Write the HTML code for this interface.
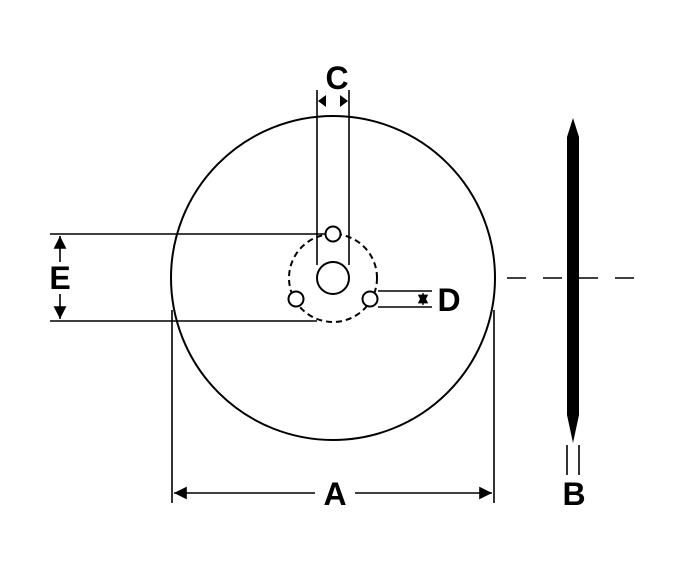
<!DOCTYPE html>
<html><head><style>body{margin:0;background:#fff}svg{display:block}text{font-family:"Liberation Sans",sans-serif;font-weight:bold;font-size:32px;text-anchor:middle;dominant-baseline:central}</style></head>
<body>
<svg width="677" height="582" viewBox="0 0 677 582" xmlns="http://www.w3.org/2000/svg">
<defs><marker id="ar" viewBox="0 0 10 10" refX="10" refY="5" markerWidth="8" markerHeight="8" orient="auto-start-reverse"><path d="M0,0L10,5L0,10z" fill="#000"/></marker></defs>
<g stroke="#000" fill="none" stroke-width="1.6">
<circle cx="333" cy="278" r="162" stroke-width="2"/>
<circle cx="333" cy="278" r="44" stroke-dasharray="6,4" stroke-width="2"/>
<circle cx="333" cy="278" r="16" stroke-width="2"/>
<circle cx="333" cy="234" r="7.5" fill="#fff" stroke-width="2"/>
<circle cx="296" cy="299" r="7.5" fill="#fff" stroke-width="2"/>
<circle cx="370" cy="299" r="7.5" fill="#fff" stroke-width="2"/>
<line x1="317" y1="90" x2="317" y2="265"/>
<line x1="349" y1="90" x2="349" y2="265"/>
<line x1="50" y1="234" x2="325" y2="234"/>
<line x1="50" y1="321" x2="317" y2="321"/>
<line x1="378" y1="291" x2="432" y2="291"/>
<line x1="378" y1="307" x2="432" y2="307"/>
<line x1="172" y1="310" x2="172" y2="503"/>
<line x1="494" y1="310" x2="494" y2="503"/>
<line x1="60" y1="236" x2="60" y2="262" marker-start="url(#ar)"/>
<line x1="60" y1="294" x2="60" y2="319" marker-end="url(#ar)"/>
<line x1="174" y1="493" x2="315" y2="493" marker-start="url(#ar)"/>
<line x1="355" y1="493" x2="492" y2="493" marker-end="url(#ar)"/>
<line x1="423" y1="293" x2="423" y2="305" marker-start="url(#ar)" marker-end="url(#ar)" stroke-width="1.3"/>
<line x1="567" y1="445" x2="567" y2="475"/>
<line x1="579" y1="445" x2="579" y2="475"/>
<line x1="507" y1="278" x2="635" y2="278" stroke-dasharray="19,17"/>
</g>
<path d="M318,101L326,95L326,107z M348,101L340,95L340,107z" fill="#000"/>
<path d="M573,118L579,137L579,415L573,443L567,415L567,137z" fill="#000"/>
<text x="337" y="78">C</text>
<text x="60" y="278">E</text>
<text x="449" y="300">D</text>
<text x="335" y="494">A</text>
<text x="574" y="494">B</text>
</svg>
</body></html>
